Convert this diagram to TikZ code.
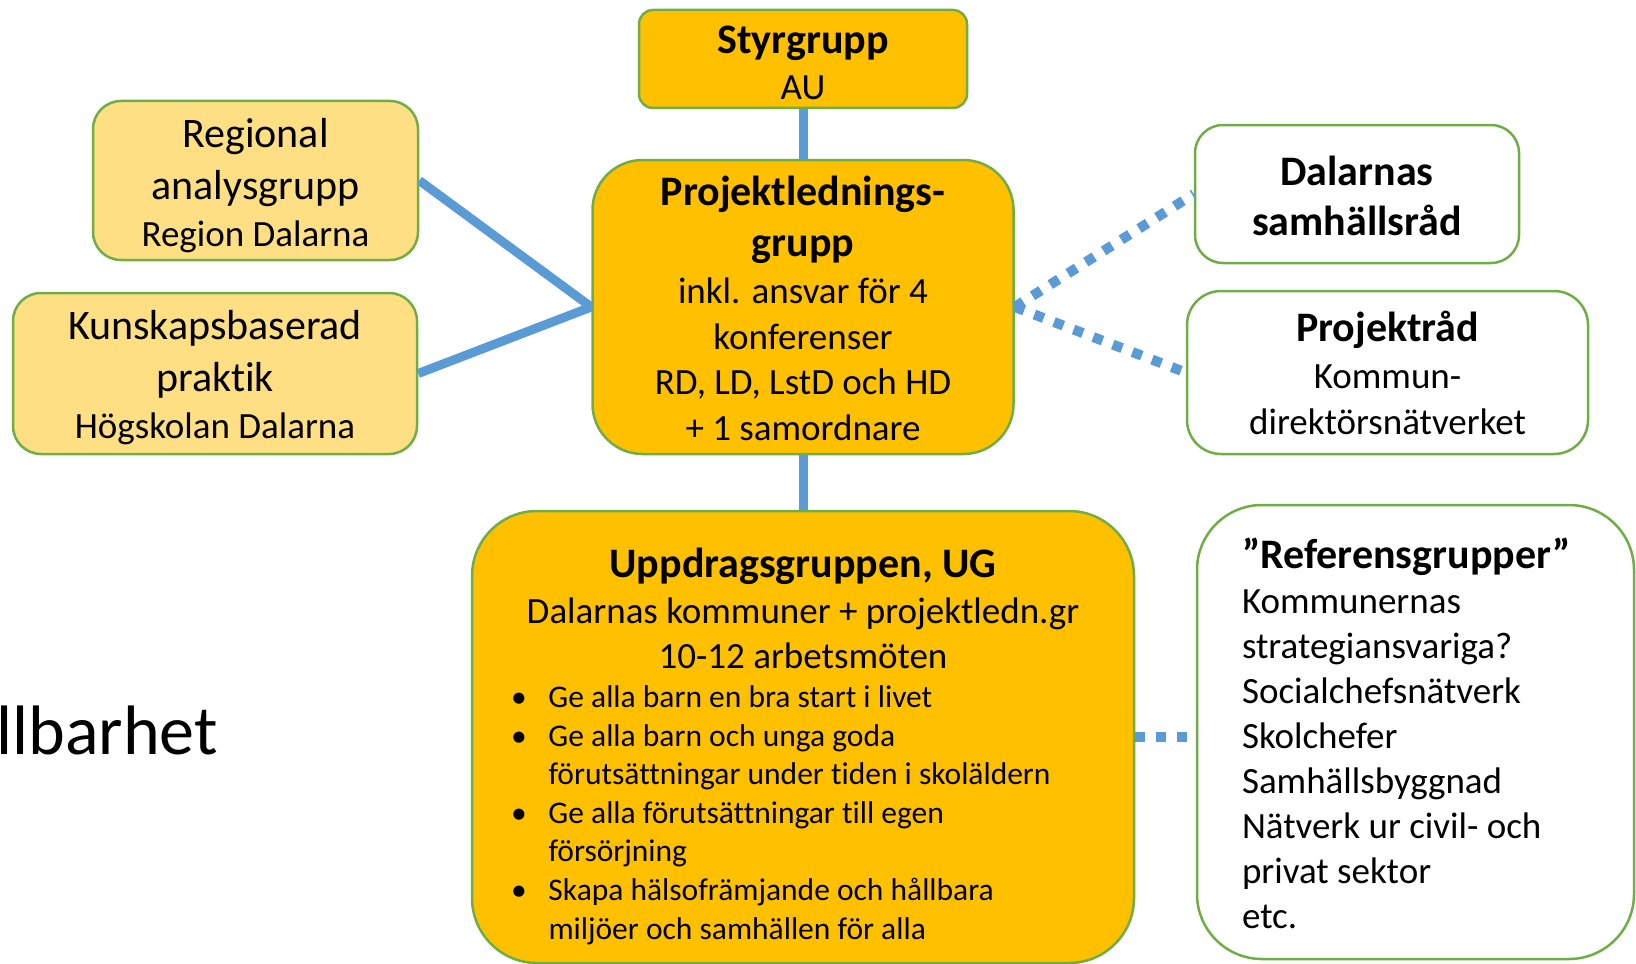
\documentclass[tikz,border=0pt]{standalone}
\usepackage{fontspec}
\setmainfont{Carlito}[Ligatures=NoCommon]
\usetikzlibrary{positioning}

\definecolor{orgfill}{HTML}{FFC000}
\definecolor{lightfill}{HTML}{FFDF84}
\definecolor{boxline}{HTML}{70AD47}
\definecolor{linkblue}{HTML}{5B9BD5}

\newcommand{\headsize}{\fontsize{21}{25}\selectfont\bfseries}
\newcommand{\bigsize}{\fontsize{21}{25}\selectfont}
\newcommand{\itemsize}{\fontsize{15.75}{19.3}\selectfont}
\newcommand{\topstrut}[1]{\rule{0pt}{#1}}
\newcommand{\ugitem}[1]{\par\hangindent=18.75pt\hangafter=1\noindent\makebox[18.75pt][l]{\textbullet}#1\par}

\begin{document}
\begin{tikzpicture}[
    x=0.5pt, y=-0.5pt,
    group/.style={draw=boxline, line width=1.25pt, align=center, inner sep=0pt,
        font=\fontsize{18.5}{22.75}\selectfont},
    leadbox/.style={group, fill=orgfill},
    sidebox/.style={group, fill=lightfill, rounded corners=14pt},
    councilbox/.style={group, fill=white, rounded corners=14pt},
    link/.style={linkblue, line width=4.5pt},
    dotlink/.style={linkblue, line width=5pt, dash pattern=on 5pt off 5.5pt}
]
\useasboundingbox (0,0) rectangle (1636,963);

\node[anchor=base west, inner sep=0pt, font=\fontsize{35}{42}\selectfont] (hallbarhet) at (-4,754) {llbarhet};

\node[leadbox, rounded corners=7pt, minimum width=164pt, minimum height=49pt] (styr) at (803,59)
    {\topstrut{17.4pt}\headsize Styrgrupp\\ AU};
\node[leadbox, rounded corners=25pt, minimum width=210.5pt, minimum height=147pt] (proj) at (803,307)
    {\topstrut{16.2pt}\headsize Projektlednings-\\[2.5pt] \headsize grupp\\[1pt] inkl. ansvar för 4\\ konferenser\\ RD, LD, LstD och HD\\ + 1 samordnare};
\node[sidebox, minimum width=162.5pt, minimum height=79.5pt] (reg) at (255.5,180.5)
    {\topstrut{19.7pt}\bigsize Regional\\[3pt] \bigsize analysgrupp\\[1pt] Region Dalarna};
\node[sidebox, minimum width=202pt, minimum height=80.5pt] (kun) at (215,373.5)
    {\topstrut{19pt}\bigsize Kunskapsbaserad\\[3pt] \bigsize praktik\\[1pt] Högskolan Dalarna};
\node[councilbox, minimum width=162pt, minimum height=69pt] (dal) at (1357,194)
    {\topstrut{16.6pt}\headsize Dalarnas\\[2pt] \headsize samhällsråd};
\node[councilbox, rounded corners=17pt, minimum width=200.5pt, minimum height=81.5pt] (prr) at (1387.5,372.5)
    {\topstrut{15pt}\headsize Projektråd\\[1pt] Kommun-\\ direktörsnätverket};
\node[leadbox, rounded corners=32.5pt, minimum width=331pt, minimum height=226pt] (ug) at (803,737)
    {\begin{minipage}{292pt}
    \vspace*{9.4pt}
    \centering
    {\headsize Uppdragsgruppen, UG\par}
    Dalarnas kommuner + projektledn.gr\\
    10-12 arbetsmöten\par
    \raggedright\itemsize
    \ugitem{Ge alla barn en bra start i livet}
    \ugitem{Ge alla barn och unga goda\newline förutsättningar under tiden i skoläldern}
    \ugitem{Ge alla förutsättningar till egen\newline försörjning}
    \ugitem{Skapa hälsofrämjande och hållbara\newline miljöer och samhällen för alla}
    \end{minipage}};
\node[councilbox, rounded corners=32.5pt, minimum width=218.5pt, minimum height=227pt,
    align=flush left, text width=173.5pt, font=\fontsize{18.5}{22.5}\selectfont] (ref) at (1415.5,732)
    {\topstrut{16.6pt}{\headsize ”Referensgrupper”}\\ Kommunernas\\ strategiansvariga?\\ Socialchefsnätverk\\ Skolchefer\\ Samhällsbyggnad\\ Nätverk ur civil- och\\ privat sektor\\ etc.};

\draw[link] (styr) -- (proj);
\draw[link] (proj) -- (ug);
\draw[link] (reg.east) -- (proj.west);
\draw[link] (kun.east) -- (proj.west);
\draw[dotlink] (proj.east) -- (dal.west);
\draw[dotlink] (proj.east) -- (prr.west);
\draw[dotlink] (ug.east) -- (ug.east -| ref.west);
\end{tikzpicture}
\end{document}
